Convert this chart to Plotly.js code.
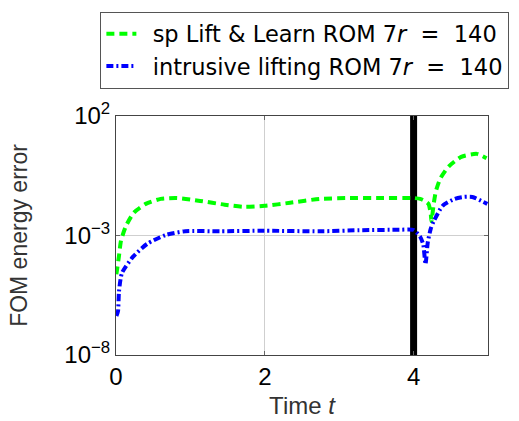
<!DOCTYPE html>
<html>
<head>
<meta charset="utf-8">
<script src="https://cdn.plot.ly/plotly-3.0.1.min.js"></script>
<style>html,body{margin:0;padding:0;background:#fff;}#chart{width:519px;height:421px;}</style>
</head>
<body>
<div id="chart"></div>
<script>
// Time samples and FOM energy error for each ROM
const tGreen = [0.005, 0.013, 0.04, 0.067, 0.134, 0.24, 0.40, 0.60, 0.82, 1.13, 1.46, 1.73, 2.0, 2.34, 2.74, 3.14, 3.54, 4.0, 4.09, 4.15, 4.20, 4.23, 4.24, 4.27, 4.30, 4.36, 4.47, 4.64, 4.85, 4.98];
const eGreen = [2.4e-5, 3.5e-5, 1.4e-4, 6.0e-4, 2.5e-3, 9.1e-3, 0.021, 0.034, 0.037, 0.028, 0.0195, 0.0158, 0.0174, 0.0234, 0.034, 0.037, 0.037, 0.037, 0.034, 0.028, 0.021, 0.0083, 0.0039, 0.021, 0.072, 0.245, 0.76, 1.95, 2.6, 1.7];

const tBlue = [0.005, 0.027, 0.04, 0.08, 0.23, 0.42, 0.67, 0.93, 1.4, 2.0, 2.74, 3.27, 3.81, 4.0, 4.09, 4.13, 4.16, 4.19, 4.23, 4.27, 4.39, 4.55, 4.67, 4.79, 4.93, 4.99];
const eBlue = [4.3e-7, 6.9e-7, 4.5e-6, 2.7e-5, 1.3e-4, 4.5e-4, 1.05e-3, 1.5e-3, 1.5e-3, 1.58e-3, 1.5e-3, 1.66e-3, 1.74e-3, 1.7e-3, 8.7e-4, 4.1e-4, 6.3e-5, 5e-4, 1.9e-3, 3.9e-3, 0.0174, 0.034, 0.041, 0.041, 0.026, 0.021];

// Vertical marker at the end of the training interval
const markerT = [4, 4];
const markerE = [1e-8, 1e2];

const xTicks = [0, 2, 4];
const yTickVals = [1e-8, 1e-3, 1e2];
const yTickText = ['10<sup>−8</sup>', '10<sup>−3</sup>', '10<sup>2</sup>'];

const nameGreen = '\u2002sp Lift &amp; Learn ROM 7<i>r</i>  =  140';
const nameBlue = '\u2002intrusive lifting ROM 7<i>r</i>  =  140';

const FONT = 'Liberation Sans, Arial, sans-serif';
const LEGFONT = 'DejaVu Sans, sans-serif';

const traces = [
  {x: markerT, y: markerE, mode: 'lines', line: {color: '#000', width: 7}, showlegend: false, hoverinfo: 'skip'},
  {x: tGreen, y: eGreen, mode: 'lines', name: nameGreen,
   line: {color: '#00ff00', width: 4, dash: '8px,5px', shape: 'spline', smoothing: 0.6}},
  {x: tBlue, y: eBlue, mode: 'lines', name: nameBlue,
   line: {color: '#0000ff', width: 4, dash: '7px,3px,2px,3px', shape: 'spline', smoothing: 0.6}}
];

const layout = {
  width: 519, height: 421,
  margin: {l: 116, r: 31, t: 110, b: 66},
  paper_bgcolor: '#fff', plot_bgcolor: '#fff',
  font: {family: FONT, color: '#000', size: 24},
  showlegend: true,
  legend: {
    x: -0.042, y: 1.437, xanchor: 'left', yanchor: 'top',
    bgcolor: '#fff', bordercolor: '#555', borderwidth: 1,
    font: {family: LEGFONT, size: 22.5, color: '#000'},
    tracegroupgap: 0
  },
  xaxis: {
    range: [0, 5], tickvals: xTicks, ticktext: xTicks.map(String),
    showgrid: true, gridcolor: '#cfcfcf', gridwidth: 1,
    showline: true, linecolor: '#444', linewidth: 1, mirror: 'ticks',
    ticks: 'inside', ticklen: 4, tickcolor: '#666',
    zeroline: false,
    tickfont: {family: FONT, size: 24, color: '#000'},
    title: {text: 'Time <i>t</i>', font: {family: FONT, size: 24, color: '#333'}, standoff: 8}
  },
  yaxis: {
    type: 'log', range: [-8, 2], tickvals: yTickVals, ticktext: yTickText,
    showgrid: true, gridcolor: '#cfcfcf', gridwidth: 1,
    showline: true, linecolor: '#444', linewidth: 1, mirror: 'ticks',
    ticks: 'inside', ticklen: 4, tickcolor: '#666',
    zeroline: false,
    tickfont: {family: FONT, size: 24, color: '#000'},
    title: {text: 'FOM energy error', font: {family: FONT, size: 23, color: '#333'}, standoff: 30}
  }
};

Plotly.newPlot('chart', traces, layout, {staticPlot: true, displayModeBar: false});
</script>
</body>
</html>
